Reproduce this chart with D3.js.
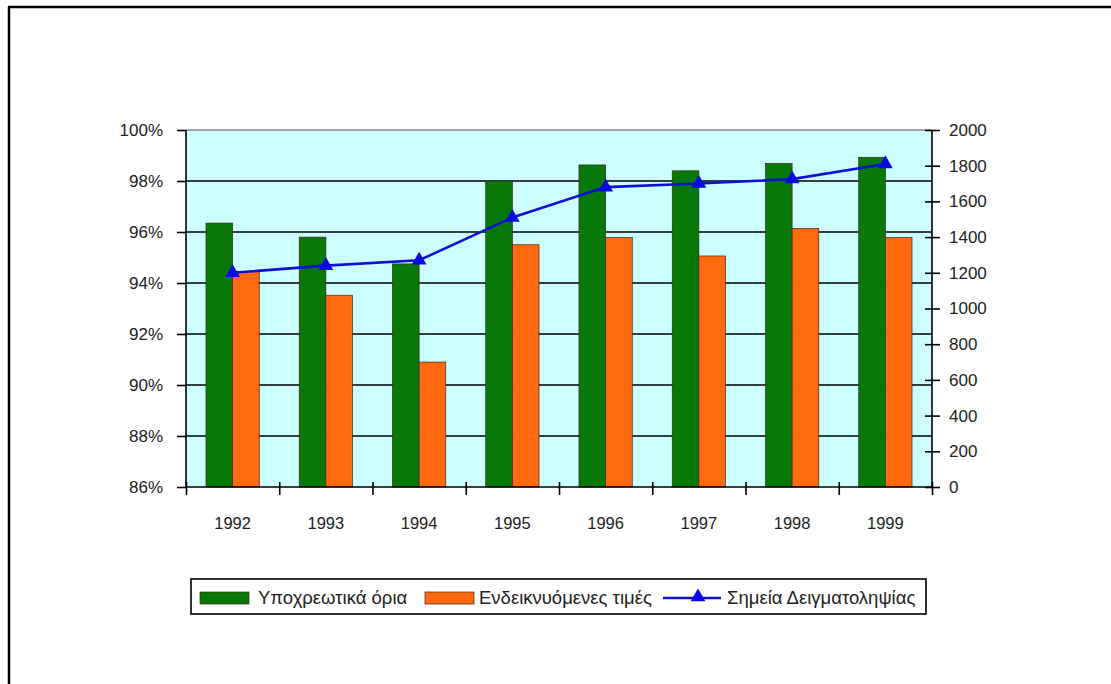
<!DOCTYPE html>
<html>
<head>
<meta charset="utf-8">
<script src="https://cdn.jsdelivr.net/npm/d3@7"></script>
<style>
    body { margin: 0; background: #fff; }
    svg text { font-family: "Liberation Sans", Arial, sans-serif; fill: #222; }
</style>
</head>
<body>
<div id="chart"></div>
<script>
// data
var years = ["1992", "1993", "1994", "1995", "1996", "1997", "1998", "1999"];
var mandatory = [96.35, 95.8, 94.75, 98.0, 98.63, 98.4, 98.69, 98.93];   // Υποχρεωτικά όρια (%)
var indicative = [94.45, 93.52, 90.9, 95.5, 95.78, 95.06, 96.14, 95.78]; // Ενδεικνυόμενες τιμές (%)
var samples = [1200, 1240, 1270, 1510, 1680, 1700, 1725, 1810];         // Σημεία Δειγματοληψίας
var leftTicks = [86, 88, 90, 92, 94, 96, 98, 100];
var rightTicks = [0, 200, 400, 600, 800, 1000, 1200, 1400, 1600, 1800, 2000];
var legendNames = ["Υποχρεωτικά όρια", "Ενδεικνυόμενες τιμές", "Σημεία Δειγματοληψίας"];

var W = 1111, H = 684;
var pLeft = 186, pRight = 932, pTop = 130, pBottom = 487;

var svg = d3.select("#chart")
    .append("svg")
    .attr("width", W)
    .attr("height", H);

// outer frame (only top and left edges show)
svg.append("line").attr("x1", 8).attr("x2", W).attr("y1", 7).attr("y2", 7)
    .style("stroke", "#000").style("stroke-width", 2.5);
svg.append("line").attr("x1", 9).attr("x2", 9).attr("y1", 7).attr("y2", H)
    .style("stroke", "#000").style("stroke-width", 2.5);

var x = d3.scaleBand().domain(years).range([pLeft, pRight]);
var xEdge = d3.scaleLinear().domain([0, years.length]).range([pLeft, pRight]);
var inner = d3.scaleBand().domain([0, 1]).range([0, x.bandwidth() / 1.75]);
var yL = d3.scaleLinear().domain([86, 100]).range([pBottom, pTop]);
var yR = d3.scaleLinear().domain([0, 2000]).range([pBottom, pTop]);

// plot background
svg.append("rect")
    .attr("x", pLeft).attr("y", pTop)
    .attr("width", pRight - pLeft).attr("height", pBottom - pTop)
    .style("fill", "#ccffff");

// gridlines
svg.selectAll(".grid")
    .data(leftTicks.slice(1))
    .enter().append("line")
    .attr("class", "grid")
    .attr("x1", pLeft).attr("x2", pRight)
    .attr("y1", function (d) { return yL(d); })
    .attr("y2", function (d) { return yL(d); })
    .style("stroke", function (d) { return d == 100 ? "#888" : "#000"; })
    .style("stroke-width", 1.6);

// bars
var series = [mandatory, indicative];
var barColors = ["#087808", "#ff6a10"];
var groupOffset = (x.bandwidth() - inner.range()[1]) / 2;

series.forEach(function (vals, s) {
    svg.selectAll(".bar" + s)
        .data(vals)
        .enter().append("rect")
        .attr("class", "bar" + s)
        .attr("x", function (d, i) { return x(years[i]) + groupOffset + inner(s); })
        .attr("y", function (d) { return yL(d); })
        .attr("width", inner.bandwidth())
        .attr("height", function (d) { return pBottom - yL(d); })
        .style("fill", barColors[s])
        .style("stroke", "#3a2a10")
        .style("stroke-width", 0.7);
});

// axes
var axL = svg.append("g")
    .attr("transform", "translate(" + pLeft + ",0)")
    .call(d3.axisLeft(yL).tickValues(leftTicks)
        .tickFormat(function (d) { return d + "%"; })
        .tickSize(9).tickPadding(14));

var axR = svg.append("g")
    .attr("transform", "translate(" + pRight + ",0)")
    .call(d3.axisRight(yR).tickValues(rightTicks)
        .tickFormat(d3.format("d"))
        .tickSize(8).tickPadding(9));
axR.selectAll(".tick line").attr("x1", -7);

var axB = svg.append("g")
    .attr("transform", "translate(0," + pBottom + ")")
    .call(d3.axisBottom(xEdge).ticks(8).tickFormat("").tickSize(8));
axB.selectAll(".tick line").attr("y1", -5);

var axLabels = svg.append("g")
    .attr("transform", "translate(0," + pBottom + ")")
    .call(d3.axisBottom(x).tickSize(0).tickPadding(30));
axLabels.select(".domain").remove();

[axL, axR, axB].forEach(function (g) {
    g.select(".domain").style("stroke-width", 1.6).attr("d", g === axB
        ? "M" + pLeft + ",0H" + pRight
        : "M0," + pTop + "V" + pBottom);
    g.selectAll(".tick line").style("stroke", "#000").style("stroke-width", 1.6);
});
svg.selectAll(".tick text").style("font-size", "17px").style("fill", "#222");
axLabels.selectAll(".tick text").style("font-size", "16.5px");

// sampling points line
var line = d3.line()
    .x(function (d, i) { return x(years[i]) + x.bandwidth() / 2; })
    .y(function (d) { return yR(d); });

svg.append("path")
    .datum(samples)
    .attr("d", line)
    .style("fill", "none")
    .style("stroke", "#1010d0")
    .style("stroke-width", 2.6);

var tri = d3.symbol().type(d3.symbolTriangle).size(95);
svg.selectAll(".marker")
    .data(samples)
    .enter().append("path")
    .attr("class", "marker")
    .attr("d", tri)
    .attr("transform", function (d, i) {
        return "translate(" + (x(years[i]) + x.bandwidth() / 2) + "," + yR(d) + ")";
    })
    .style("fill", "#0a0ae0");

// legend
var lg = svg.append("g");
lg.append("rect")
    .attr("x", 191).attr("y", 579).attr("width", 735).attr("height", 35)
    .style("fill", "#fff").style("stroke", "#000").style("stroke-width", 1.6);

var legendX = [200, 425, 663];
[0, 1].forEach(function (s) {
    lg.append("rect")
        .attr("x", legendX[s]).attr("y", 592)
        .attr("width", 49).attr("height", 12)
        .style("fill", barColors[s]).style("stroke", "#3a2a10").style("stroke-width", 0.7);
});
lg.append("line")
    .attr("x1", legendX[2]).attr("x2", legendX[2] + 58)
    .attr("y1", 598).attr("y2", 598)
    .style("stroke", "#1010d0").style("stroke-width", 2.6);
lg.append("path")
    .attr("d", tri)
    .attr("transform", "translate(" + (legendX[2] + 35) + ",597)")
    .style("fill", "#0a0ae0");

var textX = [258, 479, 727];
lg.selectAll(".ltext")
    .data(legendNames)
    .enter().append("text")
    .attr("class", "ltext")
    .attr("x", function (d, i) { return textX[i]; })
    .attr("y", 604)
    .style("font-size", "18.5px")
    .text(function (d) { return d; });
</script>
</body>
</html>
